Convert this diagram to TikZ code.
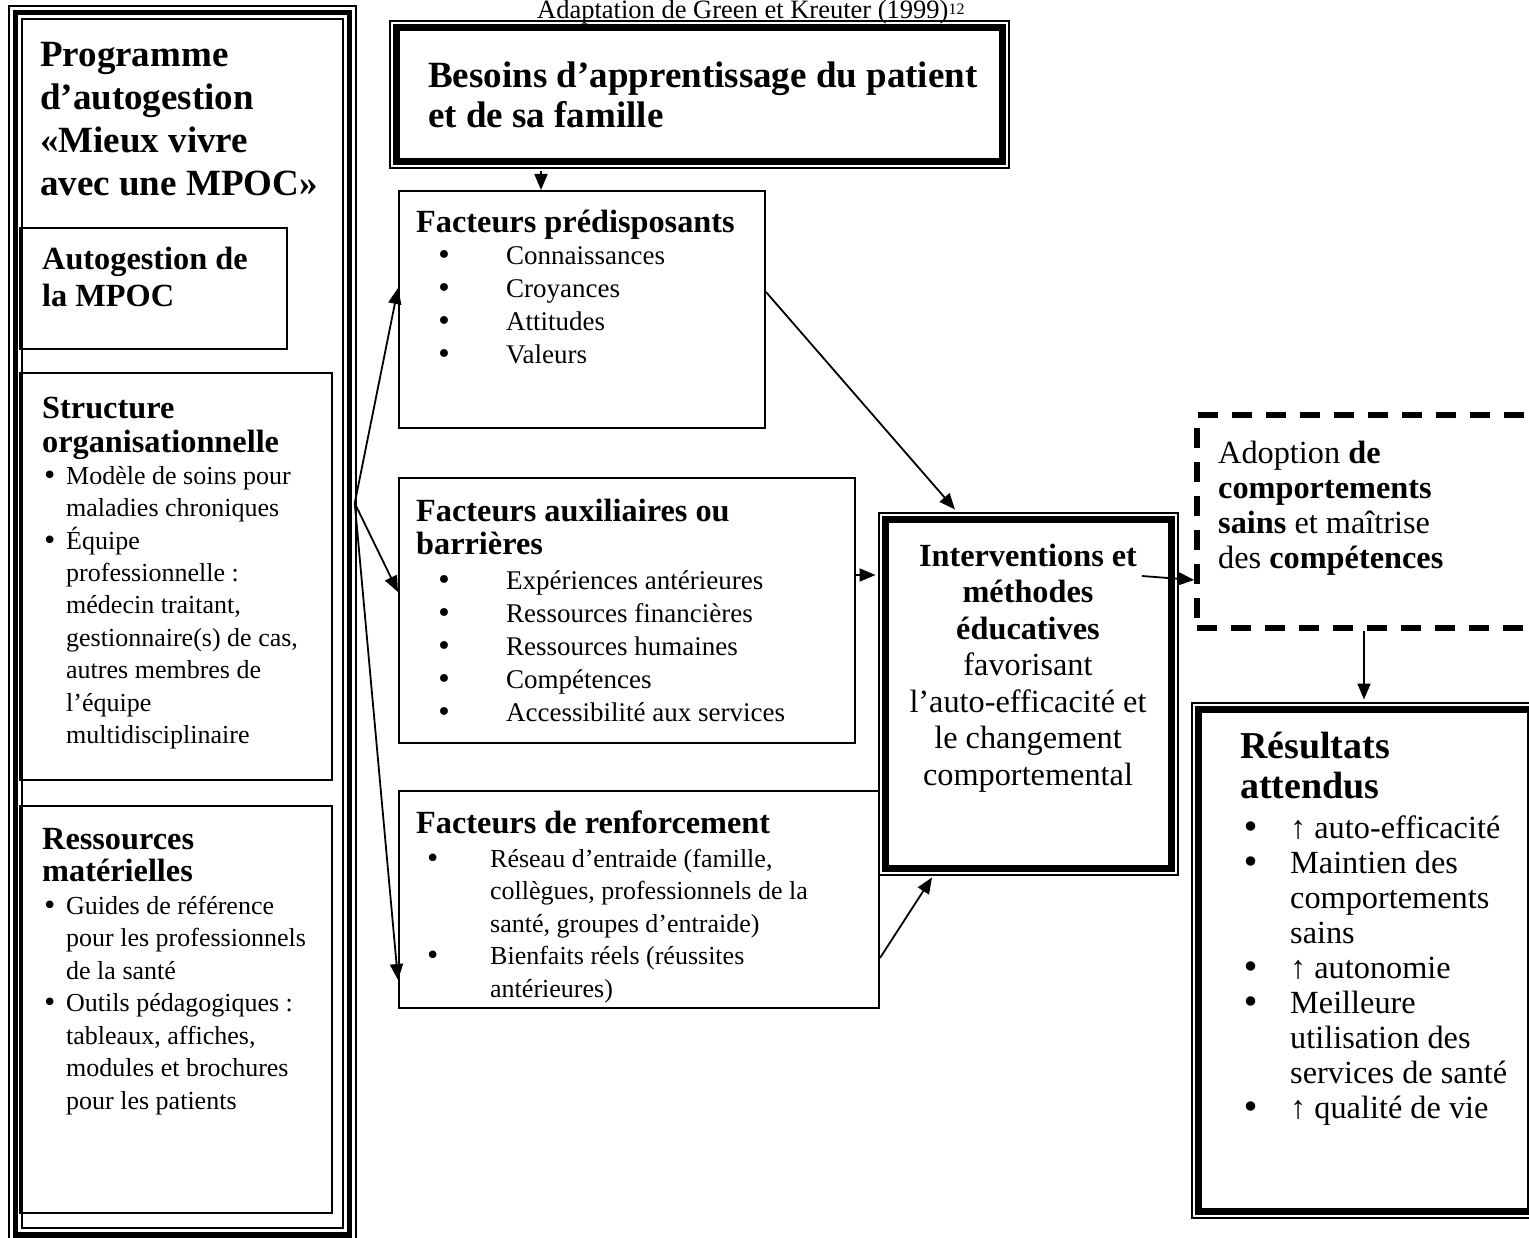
\documentclass[tikz,border=0pt]{standalone}
\usepackage{fontspec}
\setmainfont{Liberation Serif}
\newfontfamily\bulfont{DejaVu Sans}
\usetikzlibrary{arrows.meta}

\newcommand{\fsz}[2]{\fontsize{#1}{#2}\selectfont}
\newcommand{\rows}[1]{\begin{tabular}[t]{@{}l@{}}#1\end{tabular}}
\newcommand{\blist}[2]{\begin{tabular}[t]{@{}p{#1}@{}l@{}}#2\end{tabular}}
\newcommand{\bul}{{\bulfont •}}

\tikzset{
  thinbox/.style={draw, line width=2pt, inner sep=0pt},
  framebox/.style={draw, line width=7pt, fill=white, inner sep=0pt,
    preaction={draw, line width=2pt, double=white, double distance=11pt}},
  txt/.style={inner sep=0pt, anchor=base west},
}

\begin{document}
\begin{tikzpicture}[x=1pt,y=-1pt]
\useasboundingbox (0,0) rectangle (1529,1238);
\fill[white] (0,0) rectangle (1529,1238);
\clip (0,0) rectangle (1529,1238);

\node[draw, line width=5.5pt, inner sep=0pt, minimum width=334pt, minimum height=1222pt,
      preaction={draw, line width=2pt, double=white, double distance=11pt}]
      (prog) at (182.5,623.75) {};
\begin{scope}[every node/.style={thinbox}]
    \node[minimum width=267pt, minimum height=121pt] (autog) at (153.5,288.5) {};
    \node[minimum width=312pt, minimum height=407pt] (struct) at (176,576.5) {};
    \node[minimum width=312pt, minimum height=407pt] (ressmat) at (176,1009.5) {};
    \node[minimum width=366pt, minimum height=237pt] (pred) at (582,309.5) {};
    \node[minimum width=456pt, minimum height=265pt] (aux) at (627,610.5) {};
    \node[minimum width=480pt, minimum height=217pt] (renf) at (639,899.5) {};
\end{scope}
\begin{scope}[every node/.style={framebox}]
    \node[minimum width=606pt, minimum height=134pt] (besoins) at (699,95) {};
    \node[minimum width=286pt, minimum height=349pt] (interv) at (1028,693.5) {};
    \node[minimum width=332pt, minimum height=502pt] (result) at (1364,960) {};
\end{scope}
\node[draw, line width=5.5pt, dash pattern=on 20pt off 14pt, inner sep=0pt,
      minimum width=363pt, minimum height=213pt] (adopt) at (1378.5,521.5) {};

\node[txt, font=\fsz{26.5}{30}] (source) at (537,19) {Adaptation de Green et Kreuter (1999)\raisebox{4pt}{\fsz{16}{16}12}};

\node[txt, font=\bfseries\fsz{37}{42.7}] (progtxt) at (40,67) {\rows{Programme\\ d’autogestion\\ «Mieux vivre\\ avec une MPOC»}};
\node[txt, font=\bfseries\fsz{32.3}{37}] (autogtxt) at (42,270) {\rows{Autogestion de\\ la MPOC}};
\node[txt, font=\bfseries\fsz{32.3}{35}] (structtxt) at (42,418) {\rows{Structure\\ organisationnelle}};
\node[txt, font=\fsz{26}{32.5}] (structlist) at (42,484) {\blist{24pt}{\bul & Modèle de soins pour\\ & maladies chroniques\\ \bul & Équipe\\ & professionnelle :\\ & médecin traitant,\\ & gestionnaire(s) de cas,\\ & autres membres de\\ & l’équipe\\ & multidisciplinaire}};
\node[txt, font=\bfseries\fsz{32.3}{32}] (resstxt) at (42,849) {\rows{Ressources\\ matérielles}};
\node[txt, font=\fsz{26}{32.5}] (resslist) at (42,914) {\blist{24pt}{\bul & Guides de référence\\ & pour les professionnels\\ & de la santé\\ \bul & Outils pédagogiques :\\ & tableaux, affiches,\\ & modules et brochures\\ & pour les patients}};

\node[txt, font=\bfseries\fsz{37}{40}] (besoinstxt) at (428,88) {\rows{Besoins d’apprentissage du patient\\ et de sa famille}};

\node[txt, font=\bfseries\fsz{32.3}{33}] (predtxt) at (416,233) {Facteurs prédisposants};
\node[txt, font=\fsz{27}{32.7}] (predlist) at (436,265) {\blist{70pt}{\bul & Connaissances\\ \bul & Croyances\\ \bul & Attitudes\\ \bul & Valeurs}};
\node[txt, font=\bfseries\fsz{32.3}{33}] (auxtxt) at (416,521) {\rows{Facteurs auxiliaires ou\\ barrières}};
\node[txt, font=\fsz{27}{33}] (auxlist) at (436,589) {\blist{70pt}{\bul & Expériences antérieures\\ \bul & Ressources financières\\ \bul & Ressources humaines\\ \bul & Compétences\\ \bul & Accessibilité aux services}};
\node[txt, font=\bfseries\fsz{32.3}{33}] (renftxt) at (416,833) {Facteurs de renforcement};
\node[txt, font=\fsz{26}{32.5}] (renflist) at (425,867) {\blist{65pt}{\bul & Réseau d’entraide (famille,\\ & collègues, professionnels de la\\ & santé, groupes d’entraide)\\ \bul & Bienfaits réels (réussites\\ & antérieures)}};

\node[inner sep=0pt, anchor=base, font=\fsz{32.3}{36.5}] (intervtxt) at (1028,566) {\begin{tabular}[t]{@{}c@{}}\textbf{Interventions et}\\ \textbf{méthodes}\\ \textbf{éducatives}\\ favorisant\\ l’auto-efficacité et\\ le changement\\ comportemental\end{tabular}};
\node[txt, font=\fsz{32.3}{35.3}] (adopttxt) at (1218,463) {\rows{Adoption \textbf{de}\\ \textbf{comportements}\\ \textbf{sains} et maîtrise\\ des \textbf{compétences}}};
\node[txt, font=\bfseries\fsz{38}{40}] (resulttxt) at (1240,758) {\rows{Résultats\\ attendus}};
\node[txt, font=\fsz{32.3}{35.1}] (resultlist) at (1241,838) {\blist{49pt}{\bul & ↑ auto-efficacité\\ \bul & Maintien des\\ & comportements\\ & sains\\ \bul & ↑ autonomie\\ \bul & Meilleure\\ & utilisation des\\ & services de santé\\ \bul & ↑ qualité de vie}};

\begin{scope}[every edge/.style={draw=black, line width=1.8pt, -{Triangle[length=16pt,width=13pt]}}]
    \path ([xshift=-158pt,yshift=-6pt]besoins.south) edge ([xshift=-41pt]pred.north);
    \path ([xshift=2.5pt,yshift=120.5pt]prog.east) edge ([yshift=21.5pt]pred.west);
    \path ([xshift=2.5pt,yshift=120.5pt]prog.east) edge ([yshift=18.5pt]aux.west);
    \path ([xshift=2.5pt,yshift=120.5pt]prog.east) edge ([yshift=-80.5pt]renf.west);
    \path ([yshift=17.5pt]pred.east) edge ([xshift=-73pt,yshift=6pt]interv.north);
    \path ([yshift=35.5pt]aux.east) edge ([xshift=-6pt,yshift=118.5pt]interv.west);
    \path ([yshift=-58.5pt]renf.east) edge ([xshift=-96pt,yshift=-6pt]interv.south);
    \path ([xshift=114pt,yshift=117.5pt]interv.center) edge ([yshift=-58.5pt]adopt.west);
    \path (adopt.south -| result.north) edge ([yshift=6pt]result.north);
\end{scope}
\end{tikzpicture}
\end{document}
